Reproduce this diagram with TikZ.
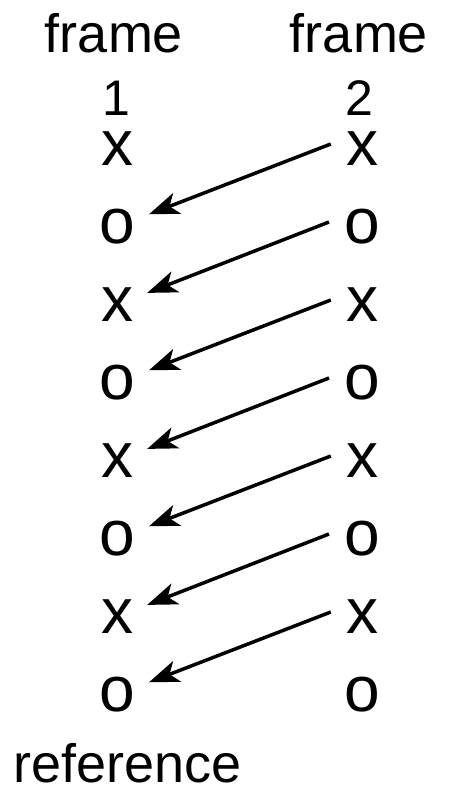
\documentclass[tikz,border=0pt]{standalone}
\usepackage{fontspec}
\setmainfont{Liberation Sans}
\usetikzlibrary{arrows.meta,calc}
\begin{document}
\begin{tikzpicture}[x=1bp,y=-1bp,
  lbl/.style={inner sep=0pt,anchor=base,font=\fontsize{54bp}{60bp}\selectfont},
  num/.style={inner sep=0pt,anchor=base,font=\fontsize{50bp}{56bp}\selectfont},
  sym/.style={inner sep=0pt,anchor=center,font=\fontsize{64bp}{70bp}\selectfont},
  arr/.style={line width=3.5bp,-{Stealth[length=30bp,width=22bp,inset=8bp]}}]
\useasboundingbox (0,0) rectangle (459,792);
\node[lbl] (f1) at (114,53) {frame};
\node[lbl] (f2) at (359,53) {frame};
\node[num] (n1) at (116,115) {1};
\node[num] (n2) at (359,115) {2};
\foreach \i/\c in {1/x,2/o,3/x,4/o,5/x,6/o,7/x,8/o}{
  \node[sym] (a\i) at (117,{149+78*(\i-1)}) {\c};
  \node[sym] (b\i) at (362,{149+78*(\i-1)}) {\c};
}
\foreach \i [evaluate=\i as \j using int(\i+1)] in {1,...,7}{
  \draw[arr] ($(b\i.west)+(-15,-5)$) -- ($(a\j.north east)+(14,5)$);
}
\node[lbl,anchor=base west] (ref) at (13,782) {reference};
\end{tikzpicture}
\end{document}
